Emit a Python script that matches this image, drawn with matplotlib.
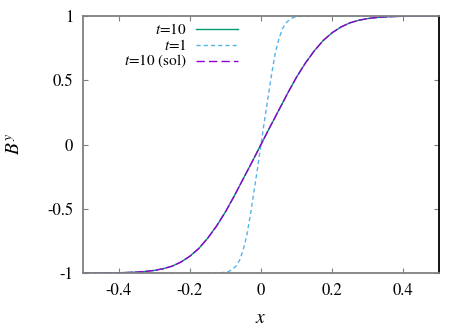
import numpy as np
import matplotlib
matplotlib.use("Agg")
import matplotlib.pyplot as plt

# Werte (x >= 0, Kurven sind punktsymmetrisch)
x_t10 = [0.0, 0.025, 0.05, 0.075, 0.1, 0.125, 0.15, 0.175, 0.2, 0.225, 0.25,
         0.275, 0.3, 0.325, 0.35, 0.375, 0.4, 0.45, 0.5]
by_t10 = [0.0, 0.135, 0.267, 0.40, 0.525, 0.635, 0.73, 0.81, 0.87, 0.915, 0.947,
          0.967, 0.98, 0.988, 0.993, 0.996, 0.998, 0.9995, 1.0]

x_t1 = [0.0, 0.01, 0.02, 0.03, 0.04, 0.05, 0.06, 0.07, 0.08, 0.09, 0.1,
        0.12, 0.15, 0.5]
by_t1 = [0.0, 0.19, 0.37, 0.55, 0.71, 0.82, 0.90, 0.945, 0.972, 0.987, 0.995,
         0.999, 1.0, 1.0]

x_sol = list(x_t10)
by_sol = list(by_t10)

xticks = [-0.4, -0.2, 0, 0.2, 0.4]
yticks = [-1, -0.5, 0, 0.5, 1]


def mirror(xs, ys):
    xs = np.asarray(xs)
    ys = np.asarray(ys)
    return np.concatenate([-xs[:0:-1], xs]), np.concatenate([-ys[:0:-1], ys])


plt.rcParams['font.family'] = ['STIXGeneral', 'Liberation Serif', 'DejaVu Serif']
plt.rcParams['mathtext.fontset'] = 'stix'
plt.rcParams['font.size'] = 12

fig = plt.figure(figsize=(4.69, 3.28), dpi=100)
ax = fig.add_axes([83/469, 1 - 273/328, 356/469, 257/328])

grau = '#808080'
lines = [
    (mirror(x_t10, by_t10), '#009e73', '-', r'$t$=10'),
    (mirror(x_t1, by_t1), '#56b4e9', (0, (3, 2.2)), r'$t$=1'),
    (mirror(x_sol, by_sol), '#9400d3', (0, (6, 1.5)), r'$t$=10 (sol)'),
]
for (xs, ys), col, ls, lab in lines:
    ax.plot(xs, ys, color=col, linestyle=ls, lw=1.0)

# Legende wie bei gnuplot: Text rechtsbuendig, Linie rechts daneben
ypos = [0.949, 0.887, 0.825]
leg_ls = ['-', (0, (3, 2.2)), (0, (6, 3))]
for (dummy, col, ls, lab), yy, lls in zip(lines, ypos, leg_ls):
    ax.plot([0.317, 0.435], [yy, yy], color=col, linestyle=lls, lw=1.0,
            transform=ax.transAxes)
    ax.text(0.292, yy, lab, ha='right', va='center', transform=ax.transAxes,
            fontsize=11)

ax.set_xlim(-0.5, 0.5)
ax.set_ylim(-1, 1)
ax.set_xticks(xticks)
ax.set_xticklabels([f'{v:g}' for v in xticks])
ax.set_yticks(yticks)
ax.set_yticklabels([f'{v:g}' for v in yticks])
ax.tick_params(direction='in', length=3.6, width=0.8, color=grau,
               top=True, right=True, pad=7)

for side in ['left', 'top', 'bottom']:
    ax.spines[side].set_color(grau)
    ax.spines[side].set_linewidth(1.3)
ax.spines['right'].set_color('black')
ax.spines['right'].set_linewidth(1.3)

ax.set_xlabel(r'$x$', fontsize=14, labelpad=8)
ax.set_ylabel(r'$B^y$', fontsize=14, labelpad=17)

fig.savefig('out.png', dpi=100)
